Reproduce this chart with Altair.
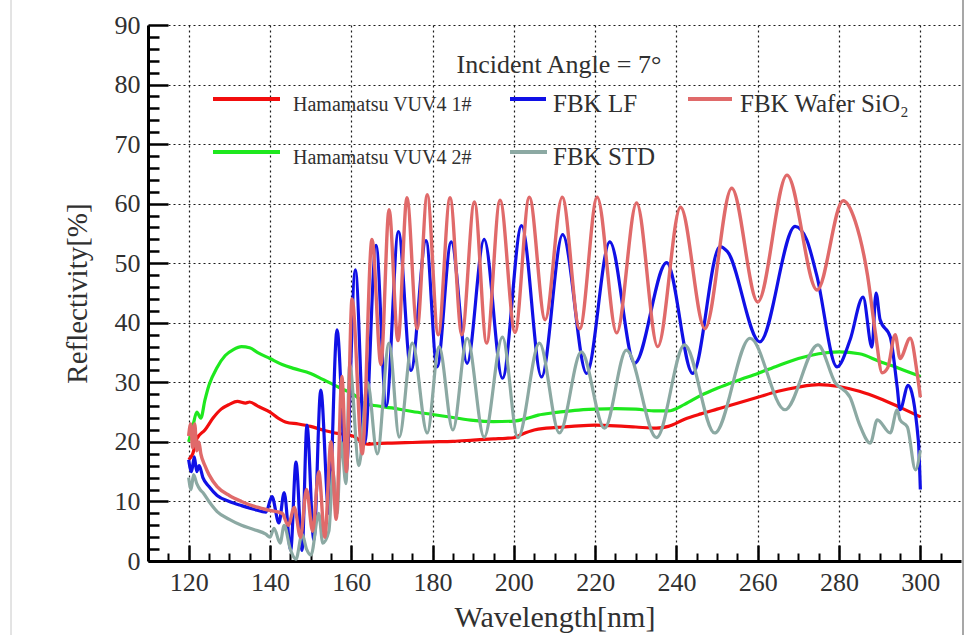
import altair as alt
import pandas as pd

# ---------------- data ----------------
series_names = ["Hamamatsu VUV4 1#", "Hamamatsu VUV4 2#", "FBK LF", "FBK STD", "FBK Wafer SiO\u2082"]
series_colors = ["#f20d0d", "#1ee81e", "#1010e6", "#8ca9a3", "#e06a6a"]

wl_red = [120, 121, 122, 124, 126, 128, 130, 132, 134, 135, 137, 140, 142, 144, 147, 150, 153, 156, 159, 161,
          162.5, 164, 166, 170, 175, 180, 185, 190, 195, 198, 200, 202, 205, 208, 212, 216, 220, 225, 230, 235,
          238, 242, 246, 250, 255, 260, 265, 270, 275, 280, 285, 290, 295, 300]
r_red = [17, 18, 20.5, 22, 24, 25.5, 26.3, 26.8, 26.5, 26.7, 26, 25, 24, 23.3, 23, 22.6, 22, 21.5, 21.2, 20.8,
         20, 19.6, 19.7, 19.8, 19.9, 20, 20.1, 20.3, 20.5, 20.6, 20.7, 21.3, 22, 22.3, 22.5, 22.7, 22.8, 22.7, 22.5, 22.3,
         22.6, 23.8, 24.7, 25.5, 26.5, 27.5, 28.5, 29.2, 29.6, 29.3, 28.5, 27.3, 25.8, 24.2]

wl_green = [120, 121, 122, 123, 124, 125, 127, 129, 131, 133, 135, 137, 140, 143, 146, 150, 153, 156, 158, 160,
            161.5, 163, 165, 170, 175, 180, 185, 190, 195, 200, 203, 206, 210, 215, 220, 225, 230, 235, 238, 242,
            246, 250, 255, 260, 265, 270, 275, 280, 285, 290, 295, 300]
r_green = [20, 22.5, 25, 24, 27, 29.5, 32.5, 34.5, 35.5, 36, 35.8, 35, 34, 33, 32.3, 31.5, 30.5, 29.5, 28.8, 28.2,
           27.5, 26.5, 26.2, 25.7, 25.1, 24.6, 24.1, 23.6, 23.4, 23.5, 23.9, 24.5, 24.9, 25.3, 25.5, 25.6, 25.5, 25.2, 25.2, 26.3,
           27.8, 29, 30.3, 31.5, 32.8, 34, 34.8, 35.1, 34.8, 33.5, 32.3, 31]

wl_blue = [120, 120.7, 121.4, 122, 122.6, 123.5, 125, 127, 130, 133, 136, 139, 140.5, 142.2, 143.5, 145.1, 146.4,
           147.9, 149.1, 150.8, 152.5, 154.5, 156.5, 158.7, 161, 163.3, 166.1, 168.6, 171.6, 174.7, 178.4, 181.1,
           184.6, 188.5, 192.7, 197.2, 201.9, 206.8, 212, 217.9, 223.6, 229.7, 237.6, 244, 250.7, 252.5, 260.5,
           269.2, 272, 274.5, 279.5, 282.7, 285.9, 288.1, 289.1, 290.1, 292.6, 294.3, 295, 297, 299.5, 300]
r_blue = [17, 15, 17.5, 15, 16, 14, 12.5, 11, 10, 9.3, 8.7, 8.2, 10.8, 6.4, 11.5, 1.8, 16.6,
          1.8, 22.8, 3.5, 28.7, 8, 38.8, 14.8, 48.9, 19.8, 53, 26, 55.3, 32, 53.8, 32.6,
          53.6, 33.2, 54, 30.7, 56.3, 30.9, 54.8, 31.5, 53.6, 33.2, 50.1, 31.5, 52.8, 52, 36.8,
          56.2, 54, 48, 32.6, 37.1, 44.3, 35.9, 45, 40.5, 37.6, 29.2, 25.4, 29.5, 20.3, 12]

wl_gray = [120, 120.6, 121.2, 122, 122.8, 123.5, 125, 127, 130, 133, 136, 139, 140, 141, 142.5, 143.5, 145, 146.4,
           147.9, 149, 150.1, 152, 153, 154.5, 155.5, 156.5, 157.5, 158.7, 159.6, 161.9, 164, 166.4, 169.3, 171.8,
           175, 178.7, 181.6, 185, 188.5, 192.7, 197.2, 201, 206.3, 211.2, 216.6, 222.3, 227.7, 235.1, 242, 249.4,
           258.1, 266.7, 274.8, 279, 282.7, 285, 287.7, 289.4, 292.6, 294.3, 295, 296.8, 298.8, 300]
r_gray = [14, 12, 14.5, 13, 12, 11.5, 10, 8.3, 7, 6, 5.3, 4.5, 4, 5.5, 3, 6, 2, 0.3,
          4.5, 2, 1, 8, 3, 5, 15, 8, 20, 13, 33, 16, 30, 18, 36.6, 20.8,
          36.6, 21.5, 36, 22, 37.4, 20.8, 37.6, 20.7, 36.6, 21.5, 35.1, 22.3, 35.4, 20.7, 36.3, 21.5,
          37.4, 25.4, 36.3, 30, 27.5, 23, 19.8, 23.7, 21.5, 25.4, 23.7, 22.5, 15.3, 18.6]

wl_pink = [120, 120.5, 121, 121.5, 122, 122.5, 123, 124, 125, 127, 130, 133, 136, 140, 143, 144.5, 146, 147.5,
           149, 150.5, 152, 153.5, 155, 156.3, 157.7, 158.8, 160.2, 162.7, 165.1, 167.3, 169.3, 171.5, 173.7,
           176.2, 178.7, 181.4, 184.3, 187.2, 190.3, 193.3, 196.6, 200.3, 203.8, 207.7, 211.9, 216.2, 220.5,
           225.3, 230.2, 235.4, 241, 247, 253.6, 260, 267.2, 274.6, 281, 284, 287, 289, 290.6, 292, 293.8, 295,
           297.5, 299.2, 300]
r_pink = [21, 23, 19, 23, 18.5, 20, 18, 16, 14.5, 12.5, 11, 10, 9.2, 8.5, 8, 6, 9, 4,
          12, 5, 15, 4, 20, 7, 31, 15, 44, 18, 54, 33, 59, 37, 61,
          39, 61.5, 38, 61, 38, 60.3, 36.6, 60.6, 38.4, 61.1, 40.5, 61.1, 39, 61.1,
          38.3, 60.1, 36, 59.4, 39, 62.6, 43.5, 64.8, 45.5, 60.5, 57, 48, 38, 31.6, 32.5, 38, 34,
          37.4, 31.6, 27.5]

x_domain = [110, 310]
y_domain = [0, 90]
x_major = list(range(120, 301, 20))
x_minor = [v for v in range(115, 306, 5) if (v - 120) % 20 != 0]
y_major = list(range(0, 91, 10))
y_minor = [v for v in range(2, 90, 2) if v % 10 != 0]

title_text = "Incident Angle = 7\u00b0"

# ---------------- layout ----------------
W, H = 813, 536
FONT = "Liberation Serif"
TXT = "#303030"

xs = alt.Scale(domain=x_domain, nice=False, zero=False)
ys = alt.Scale(domain=y_domain, nice=False, zero=False)

ax_x_main = alt.Axis(values=x_major, title="Wavelength[nm]", grid=True, gridColor="#1a1a1a",
                     gridDash=[2, 3], gridWidth=1.2, ticks=False, domainColor="#000", domainWidth=3,
                     labelFont=FONT, labelFontSize=26, labelColor=TXT, labelPadding=8, labelFlush=False,
                     titleFont=FONT, titleFontSize=30, titleFontWeight="normal", titleColor=TXT,
                     titlePadding=7)
ax_y_main = alt.Axis(values=y_major, title="Reflectivity[%]", grid=True, gridColor="#1a1a1a",
                     gridDash=[2, 3], gridWidth=1.2, ticks=False, domainColor="#000", domainWidth=3,
                     labelFont=FONT, labelFontSize=26, labelColor=TXT, labelPadding=8, labelFlush=False,
                     titleFont=FONT, titleFontSize=29, titleFontWeight="normal", titleColor=TXT,
                     titlePadding=22)
ax_x_major = alt.Axis(orient="top", offset=-H, values=x_major, labels=False, domain=False, grid=False,
                      ticks=True, tickSize=16, tickWidth=2.5, tickColor="#000", title=None)
ax_y_major = alt.Axis(orient="right", offset=-W, values=y_major, labels=False, domain=False, grid=False,
                      ticks=True, tickSize=20, tickWidth=2.5, tickColor="#000", title=None)
ax_x_minor = alt.Axis(orient="top", offset=-H, values=x_minor, labels=False, domain=False, grid=False,
                      ticks=True, tickSize=8, tickWidth=2, tickColor="#000", title=None)
ax_y_minor = alt.Axis(orient="right", offset=-W, values=y_minor, labels=False, domain=False, grid=False,
                      ticks=True, tickSize=11, tickWidth=2.5, tickColor="#000", title=None)


def curve(wl, r, color, x_axis, y_axis, width=3.2):
    df = pd.DataFrame({"wl": wl, "r": r})
    return alt.Chart(df).mark_line(color=color, strokeWidth=width, interpolate="monotone",
                                   clip=True).encode(
        x=alt.X("wl:Q", scale=xs, axis=x_axis),
        y=alt.Y("r:Q", scale=ys, axis=y_axis),
    )


red = curve(wl_red, r_red, series_colors[0], ax_x_main, ax_y_main)
green = curve(wl_green, r_green, series_colors[1], ax_x_major, ax_y_major)
blue = curve(wl_blue, r_blue, series_colors[2], ax_x_minor, ax_y_minor)
gray = curve(wl_gray, r_gray, series_colors[3], None, None)
pink = curve(wl_pink, r_pink, series_colors[4], None, None, width=3.4)

# legend (drawn inside the plot like the original)
legend_layout = {
    "Hamamatsu VUV4 1#": dict(x1=65, x2=132, yl=74, tx=145, ty=86, fs=20),
    "FBK LF": dict(x1=362, x2=398, yl=74, tx=405, ty=87, fs=25),
    "FBK Wafer SiO\u2082": dict(x1=540, x2=584, yl=74, tx=592, ty=87, fs=25),
    "Hamamatsu VUV4 2#": dict(x1=65, x2=132, yl=127, tx=145, ty=139, fs=20),
    "FBK STD": dict(x1=362, x2=399, yl=127, tx=405, ty=140, fs=25),
}
legend_layers = []
for name, color in zip(series_names, series_colors):
    L = legend_layout[name]
    src = pd.DataFrame({"label": [name]})
    legend_layers.append(
        alt.Chart(src).mark_rule(color=color, strokeWidth=4).encode(
            x=alt.value(L["x1"]), x2=alt.value(L["x2"]), y=alt.value(L["yl"]))
    )
    legend_layers.append(
        alt.Chart(src).mark_text(font=FONT, fontSize=L["fs"], color=TXT, align="left",
                                 baseline="alphabetic").encode(
            text="label:N", x=alt.value(L["tx"]), y=alt.value(L["ty"]))
    )

title_layer = alt.Chart(pd.DataFrame({"t": [title_text]})).mark_text(
    font=FONT, fontSize=26, color=TXT, align="center", baseline="alphabetic").encode(
    text="t:N", x=alt.value(411), y=alt.value(48))

frame_right = alt.Chart(pd.DataFrame({"k": [0]})).mark_rule(color="#8a8a8a", strokeWidth=1.5).encode(
    x=alt.value(W + 2), y=alt.value(-25), y2=alt.value(H + 74))
frame_left = alt.Chart(pd.DataFrame({"k": [0]})).mark_rule(color="#c8c8c8", strokeWidth=1).encode(
    x=alt.value(-137), y=alt.value(-25), y2=alt.value(H + 74))

chart = alt.layer(
    red, green, blue, gray, pink, *legend_layers, title_layer, frame_right, frame_left
).resolve_axis(
    x="independent", y="independent"
).properties(
    width=W, height=H,
    autosize=alt.AutoSizeParams(type="none"),
    padding={"left": 148, "top": 25, "right": 14, "bottom": 74},
    background="white",
).configure_view(stroke=None)

chart.save("out.html", embed_options={"renderer": "svg", "actions": False})
